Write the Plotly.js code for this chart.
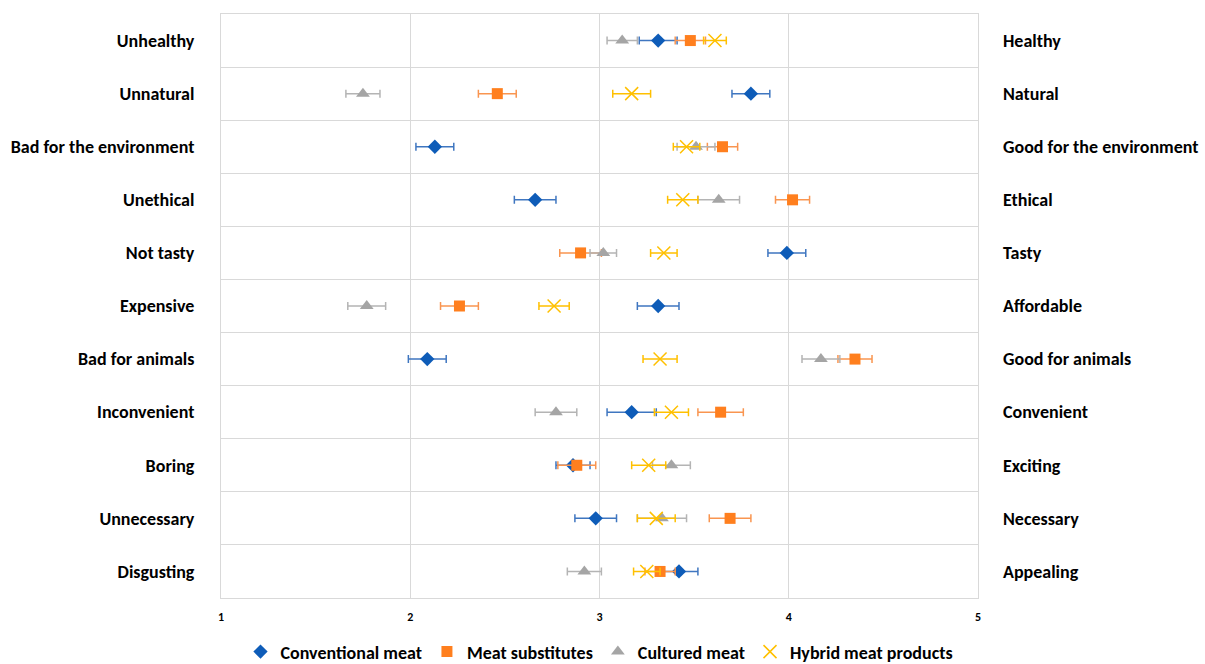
<!DOCTYPE html>
<html>
<head>
<meta charset="utf-8">
<script src="https://cdn.plot.ly/plotly-3.0.1.min.js"></script>
<style>html,body{margin:0;padding:0;background:#fff;}#chart{width:1205px;height:664px;}</style>
</head>
<body>
<div id="chart"></div>
<script>
const leftLabels = ["Unhealthy","Unnatural","Bad for the environment","Unethical","Not tasty","Expensive","Bad for animals","Inconvenient","Boring","Unnecessary","Disgusting"];
const rightLabels = ["Healthy","Natural","Good for the environment","Ethical","Tasty","Affordable","Good for animals","Convenient","Exciting","Necessary","Appealing"];
const xTicks = [1,2,3,4,5];

const conventionalMeat    = [3.31,3.80,2.13,2.66,3.99,3.31,2.09,3.17,2.86,2.98,3.42];
const conventionalMeatErr = [0.10,0.10,0.10,0.11,0.10,0.11,0.10,0.13,0.09,0.11,0.10];
const meatSubstitutes     = [3.48,2.46,3.65,4.02,2.90,2.26,4.35,3.64,2.88,3.69,3.32];
const meatSubstitutesErr  = [0.08,0.10,0.08,0.09,0.11,0.10,0.09,0.12,0.10,0.11,0.08];
const culturedMeat        = [3.12,1.75,3.51,3.63,3.02,1.77,4.17,2.77,3.38,3.33,2.92];
const culturedMeatErr     = [0.08,0.09,0.10,0.11,0.07,0.10,0.10,0.11,0.10,0.13,0.09];
const hybridMeat          = [3.61,3.17,3.46,3.44,3.34,2.76,3.32,3.38,3.26,3.30,3.25];
const hybridMeatErr       = [0.06,0.10,0.07,0.08,0.07,0.08,0.09,0.09,0.09,0.10,0.07];

const FONT = "Carlito, Lato, 'Liberation Sans', sans-serif";

function series(name, x, err, color, barColor, symbol, size) {
  return {
    type: 'scatter', mode: 'markers', name: name,
    x: x, y: leftLabels,
    marker: {color: color, symbol: symbol, size: size, line: {width: symbol === 'x-thin' ? 1.5 : 0, color: color}},
    error_x: {type: 'data', array: err, visible: true, color: barColor, thickness: 1.5, width: 4},
    hoverinfo: 'x+y'
  };
}

const data = [
  series('Conventional meat', conventionalMeat, conventionalMeatErr, '#0E5CB8', '#3F76C0', 'diamond', 11),
  series('Meat substitutes', meatSubstitutes, meatSubstitutesErr, '#FF7F1E', '#F99550', 'square', 11),
  series('Cultured meat', culturedMeat, culturedMeatErr, '#A5A5A5', '#B4B4B4', 'triangle-up', 12),
  series('Hybrid meat products', hybridMeat, hybridMeatErr, '#FFC000', '#FFC000', 'x-thin', 13),
  {type: 'scatter', mode: 'markers', x: conventionalMeat, y: rightLabels, yaxis: 'y2',
   marker: {opacity: 0}, showlegend: false, hoverinfo: 'skip'}
];

const layout = {
  width: 1205, height: 664,
  margin: {l: 221, r: 227, t: 14, b: 66, autoexpand: false},
  paper_bgcolor: '#fff', plot_bgcolor: '#fff',
  font: {family: FONT, color: '#000'},
  showlegend: true,
  legend: {orientation: 'h', x: 0.5, xanchor: 'center', y: -0.124, yanchor: 'bottom',
           font: {family: FONT, size: 18, color: '#000', weight: 'bold'}, itemwidth: 20, tracegroupgap: 0},
  xaxis: {range: [1, 5], tickvals: xTicks, ticktext: xTicks.map(String), showgrid: true, gridcolor: '#d9d9d9', gridwidth: 1,
          zeroline: false, showline: true, linecolor: '#d9d9d9', mirror: true, ticks: '',
          tickfont: {family: FONT, size: 12, weight: 'bold', color: '#000'}, ticklabelstandoff: 8},
  yaxis: {type: 'category', categoryarray: leftLabels, categoryorder: 'array', range: [10.5, -0.5],
          tickson: 'boundaries', showgrid: true, gridcolor: '#d9d9d9', gridwidth: 1, ticks: '',
          showline: true, linecolor: '#d9d9d9', mirror: true, zeroline: false,
          tickfont: {family: FONT, size: 18, weight: 'bold', color: '#000'}, ticklabelstandoff: 22},
  yaxis2: {type: 'category', categoryarray: rightLabels, categoryorder: 'array', range: [10.5, -0.5],
           overlaying: 'y', side: 'right', showgrid: false, ticks: '', zeroline: false, showline: false,
           tickfont: {family: FONT, size: 18, weight: 'bold', color: '#000'}, ticklabelstandoff: 24}
};

Plotly.newPlot('chart', data, layout, {displayModeBar: false, staticPlot: true});
</script>
</body>
</html>
